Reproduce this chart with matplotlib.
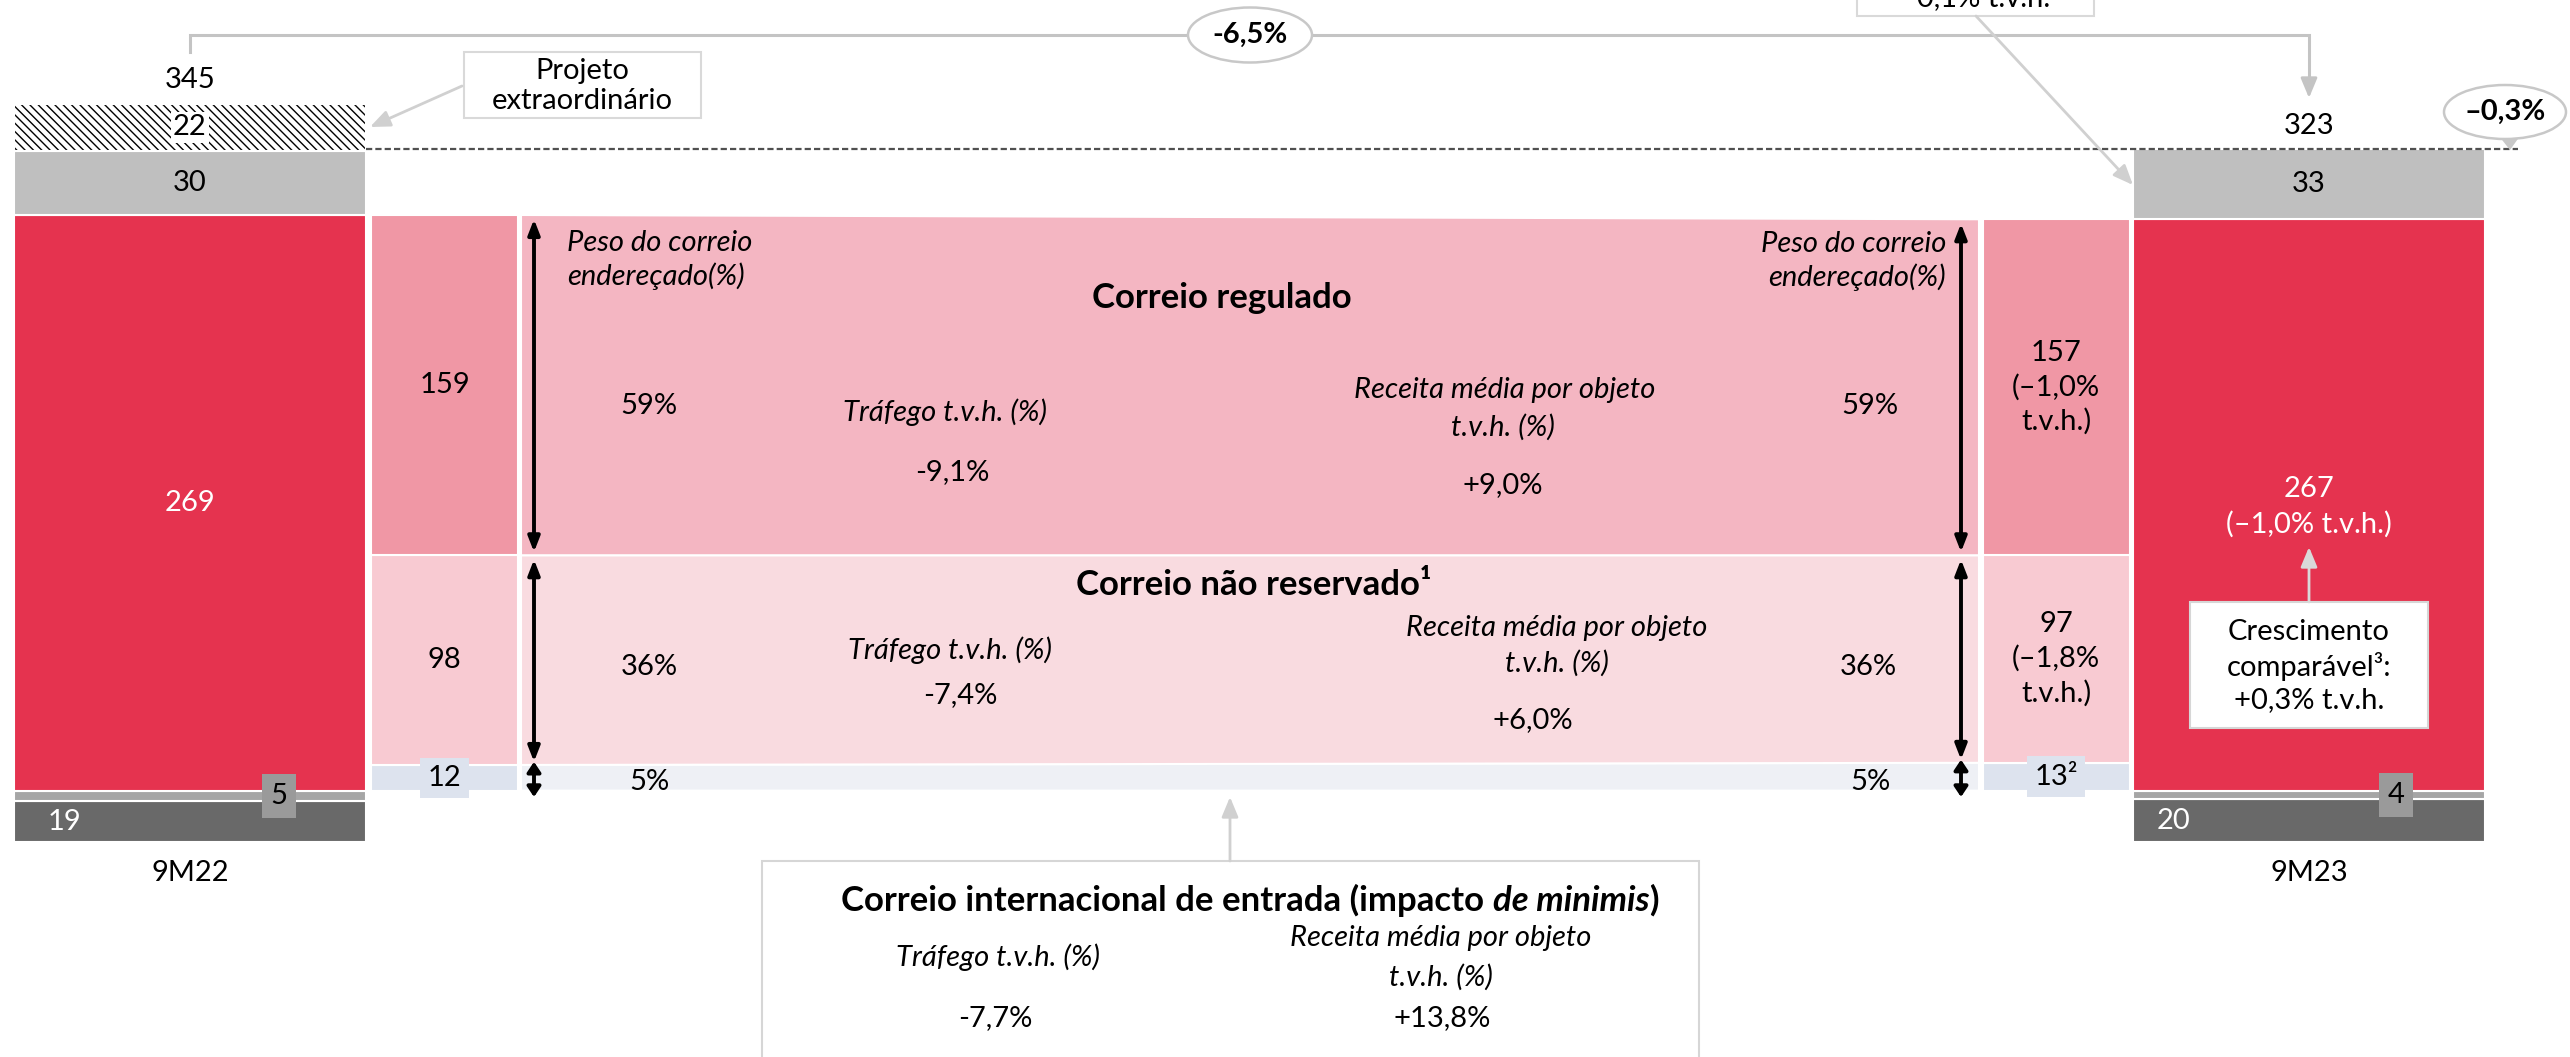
"""
Revenue bridge 9M22 -> 9M23 with the mail breakdown in the middle.
Drawn on one axes: x in pixel columns, y in M EUR.
"""

import matplotlib.pyplot as plt
from matplotlib.patches import Polygon, Rectangle, Ellipse

plt.rcParams['font.family'] = ['Lato', 'DejaVu Sans']
plt.rcParams['hatch.linewidth'] = 1.0

# ---- data (M EUR) ----
periods       = ['9M22', '9M23']
period_total  = ['345', '323']
dark_seg      = [19, 20]
thin_seg      = [5, 4]
mail_seg      = [269, 267]
gray_seg      = [30, 33]
extra_seg     = [22, 0]

regulated     = [159, 157]
non_reserved  = [98, 97]
inbound       = [12, 13]
col_labels_23 = ['157\n(–1,0%\nt.v.h.)', '97\n(–1,8%\nt.v.h.)', '13²']
mail_weight   = ['59%', '36%', '5%']
traffic_yoy   = ['-9,1%', '-7,4%', '-7,7%']
revenue_yoy   = ['+9,0%', '+6,0%', '+13,8%']
mail_23_label = '267\n(–1,0% t.v.h.)'
comparable    = 'Crescimento\ncomparável³:\n+0,3% t.v.h.'
total_change  = '-6,5%'
recur_change  = '–0,3%'

# ---- layout ----
W, H = 2570, 1057
K = 2.14        # pixels per M EUR
BASE = 842      # pixel row of the zero line


def yv(row):
    """pixel row -> data value"""
    return (BASE - row) / K


RED, DARK, THIN, GRAY = '#E5334F', '#696969', '#A6A6A6', '#BFBFBF'
COL_COLORS  = ['#DDE3EE', '#F8CAD2', '#F097A5']
BAND_COLORS = ['#EEF0F5', '#F9DBE0', '#F4B6C2']
LEADER = '#D0D0D0'

fs = 21          # numbers / plain labels
fi = 21          # italic captions
fb = 25          # bold titles

fig = plt.figure(figsize=(W / 100, H / 100), dpi=100)
ax = fig.add_axes([0, 0, 1, 1])
ax.set_xlim(0, W)
ax.set_ylim(yv(H), yv(0))
ax.axis('off')

bar_x, bar_w = [190, 2309], 352
col_x, col_w = [444.5, 2056], 147
band_l, band_r = 521, 1979

# stacked totals
bottom = [0, 0]
for vals, color in [(dark_seg, DARK), (thin_seg, THIN), (mail_seg, RED), (gray_seg, GRAY)]:
    ax.bar(bar_x, vals, bar_w, bottom=bottom, color=color, edgecolor='white', linewidth=1.5)
    bottom = [b + v for b, v in zip(bottom, vals)]
ax.bar(bar_x[0], extra_seg[0], bar_w, bottom=bottom[0], color='white',
       edgecolor='black', hatch='\\\\\\\\', linewidth=0)
ax.bar(bar_x[0], extra_seg[0], bar_w, bottom=bottom[0], color='none',
       edgecolor='white', linewidth=1.5)
left_top, right_top = bottom

# middle columns and bands
lo = [dark_seg[i] + thin_seg[i] for i in range(2)]
bands = []
for vals, ccol, bcol in zip([inbound, non_reserved, regulated], COL_COLORS, BAND_COLORS):
    hi = [lo[i] + vals[i] for i in range(2)]
    ax.bar(col_x, vals, col_w, bottom=lo, color=ccol, edgecolor='white', linewidth=1.5)
    ax.add_patch(Polygon([(band_l, lo[0]), (band_r, lo[1]), (band_r, hi[1]), (band_l, hi[0])],
                         closed=True, fc=bcol, ec='white', lw=1.5))
    bands.append((lo, hi))
    lo = hi

# dotted reference line at 9M23 total
ax.plot([366, 2518], [right_top, right_top], color='#505050', lw=1.6, ls=(0, (2.8, 1.4)))

# ---- value labels on bars ----
ax.text(64, dark_seg[0] / 2, str(dark_seg[0]), ha='center', va='center', fontsize=fs, color='white')
ax.text(2174, dark_seg[1] / 2, str(dark_seg[1]), ha='center', va='center', fontsize=fs, color='white')
for xx, i in [(279, 0), (2396, 1)]:
    ax.text(xx, dark_seg[i] + thin_seg[i] / 2, str(thin_seg[i]), ha='center', va='center', fontsize=fs,
            bbox=dict(boxstyle='square,pad=0.3', fc='#9A9A9A', ec='none'))
base_red = [dark_seg[i] + thin_seg[i] for i in range(2)]
ax.text(bar_x[0], base_red[0] + mail_seg[0] / 2, str(mail_seg[0]), ha='center', va='center',
        fontsize=fs, color='white')
ax.text(bar_x[1], yv(507), mail_23_label, ha='center', va='center', fontsize=fs, color='white',
        linespacing=1.4)
for i in range(2):
    top_red = base_red[i] + mail_seg[i]
    ax.text(bar_x[i], top_red + gray_seg[i] / 2, str(gray_seg[i]), ha='center', va='center', fontsize=fs)
ax.text(bar_x[0], left_top + extra_seg[0] / 2, str(extra_seg[0]), ha='center', va='center', fontsize=fs,
        bbox=dict(boxstyle='square,pad=0.08', fc='white', ec='none'))
ax.text(bar_x[0], yv(80), period_total[0], ha='center', va='center', fontsize=fs)
ax.text(bar_x[1], yv(126), period_total[1], ha='center', va='center', fontsize=fs)
for i in range(2):
    ax.text(bar_x[i], yv(873), periods[i], ha='center', va='center', fontsize=fs)

# middle column labels
for k, vals in enumerate([inbound, non_reserved, regulated]):
    lo, hi = bands[k]
    kw = dict(ha='center', va='center', fontsize=fs, linespacing=1.35)
    if k == 0:
        kw['bbox'] = dict(boxstyle='square,pad=0.25', fc='#DDE3EE', ec='none')
    ax.text(col_x[0], (lo[0] + hi[0]) / 2, str(vals[0]), **kw)
    ax.text(col_x[1], (lo[1] + hi[1]) / 2, col_labels_23[2 - k], **kw)

# double arrows
for x in [534, 1961]:
    i = 0 if x < 1000 else 1
    for k, (lo, hi) in enumerate(bands):
        if k == 0:
            y0, y1 = lo[i] - 3, hi[i] + 1.5
            style = '<|-|>,head_length=0.6,head_width=0.4'
        else:
            y0, y1 = lo[i] + 1.5, hi[i] - 2
            style = '<|-|>,head_length=0.9,head_width=0.35'
        ax.annotate('', xy=(x, y1), xytext=(x, y0),
                    arrowprops=dict(arrowstyle=style, color='black', lw=2.8, shrinkA=0, shrinkB=0))

# band texts
it = dict(fontsize=fi, style='italic', ha='center', va='center')
ax.text(567, yv(260), 'Peso do correio\nendereçado(%)', fontsize=fi, style='italic',
        ha='left', va='center', linespacing=1.25)
ax.text(1946, yv(261), 'Peso do correio\nendereçado(%)', linespacing=1.25, fontsize=fi,
        style='italic', ha='right', va='center', multialignment='right')
ax.text(1222, yv(298), 'Correio regulado', fontsize=fb, weight='bold', ha='center', va='center')
ax.text(1254, yv(585), 'Correio não reservado¹', fontsize=fb, weight='bold', ha='center', va='center')

for (xl, xr, row), w in zip([(649, 1870, 406), (649, 1868, 667), (649, 1870, 782)], mail_weight):
    ax.text(xl, yv(row), w, ha='center', va='center', fontsize=fs)
    ax.text(xr, yv(row), w, ha='center', va='center', fontsize=fs)

ax.text(945, yv(412), 'Tráfego t.v.h. (%)', **it)
ax.text(952, yv(472), traffic_yoy[0], ha='center', va='center', fontsize=fs)
ax.text(1505, yv(390), 'Receita média por objeto', **it)
ax.text(1503, yv(427), 't.v.h. (%)', **it)
ax.text(1503, yv(485), revenue_yoy[0], ha='center', va='center', fontsize=fs)

ax.text(950, yv(650), 'Tráfego t.v.h. (%)', **it)
ax.text(960, yv(695), traffic_yoy[1], ha='center', va='center', fontsize=fs)
ax.text(1557, yv(628), 'Receita média por objeto', **it)
ax.text(1557, yv(663), 't.v.h. (%)', **it)
ax.text(1533, yv(720), revenue_yoy[1], ha='center', va='center', fontsize=fs)

# ---- inbound box at the bottom ----
ax.add_patch(Rectangle((762, yv(1070)), 937, (1070 - 861) / K, fc='white', ec='#D6D6D6', lw=1.5))
ax.annotate('', xy=(1230, yv(797)), xytext=(1230, yv(861)),
            arrowprops=dict(arrowstyle='-|>,head_length=1.2,head_width=0.5', color=LEADER, lw=2,
                            shrinkA=0, shrinkB=0))
t1 = ax.text(800, yv(900), 'Correio internacional de entrada (impacto ', fontsize=fb, weight='bold',
             ha='left', va='center')
t2 = ax.annotate('de minimis', xy=(1, 0), xycoords=t1, fontsize=fb, weight='bold', style='italic',
                 ha='left', va='bottom')
t3 = ax.annotate(')', xy=(1, 0), xycoords=t2, fontsize=fb, weight='bold', ha='left', va='bottom')
ax.text(998, yv(957), 'Tráfego t.v.h. (%)', **it)
ax.text(995, yv(1018), traffic_yoy[2], ha='center', va='center', fontsize=fs)
ax.text(1441, yv(938), 'Receita média por objeto', **it)
ax.text(1441, yv(977), 't.v.h. (%)', **it)
ax.text(1442, yv(1018), revenue_yoy[2], ha='center', va='center', fontsize=fs)

# ---- comparable growth box ----
ax.add_patch(Rectangle((2190, yv(728)), 238, 126 / K, fc='white', ec='#D6D6D6', lw=1.5))
ax.text(2309, yv(666), comparable, ha='center', va='center', fontsize=fs, linespacing=1.3)
ax.annotate('', xy=(2309, yv(547)), xytext=(2309, yv(602)),
            arrowprops=dict(arrowstyle='-|>,head_length=1.2,head_width=0.5', color='#D9D9D9', lw=2,
                            shrinkA=0, shrinkB=0))

# ---- top annotations ----
ax.plot([190, 190, 2309, 2309], [yv(52), yv(35), yv(35), yv(80)], color='#C4C4C4', lw=2.2,
        solid_joinstyle='miter')
ax.annotate('', xy=(2309, yv(98)), xytext=(2309, yv(78)),
            arrowprops=dict(arrowstyle='-|>,head_length=1.2,head_width=0.5', color='#C4C4C4', lw=2,
                            shrinkA=0, shrinkB=0))
ax.add_patch(Ellipse((1250, yv(35)), 124, 55 / K, fc='white', ec='#C8C8C8', lw=1.8, zorder=3))
ax.text(1250, yv(35), total_change, ha='center', va='center', fontsize=fs, weight='bold', zorder=4)

# "Projeto extraordinario" callout
ax.add_patch(Rectangle((464, yv(118)), 237, 66 / K, fc='white', ec='#D9D9D9', lw=1.5))
ax.text(582, yv(86), 'Projeto\nextraordinário', ha='center', va='center', fontsize=fs, linespacing=1.2)
ax.annotate('', xy=(370, yv(127)), xytext=(462, yv(86)),
            arrowprops=dict(arrowstyle='-|>,head_length=1.2,head_width=0.5', color=LEADER, lw=2,
                            shrinkA=0, shrinkB=0))

# cut callout at the top edge
ax.add_patch(Rectangle((1857, yv(16)), 237, 60 / K, fc='white', ec='#D9D9D9', lw=1.5))
ax.text(1975, yv(6), '–0,1% t.v.h.', ha='center', va='baseline', fontsize=fs)
ax.annotate('', xy=(2133, yv(185)), xytext=(1976, yv(16)),
            arrowprops=dict(arrowstyle='-|>,head_length=1.2,head_width=0.5', color=LEADER, lw=2,
                            shrinkA=0, shrinkB=0))

# recurring change bubble
ax.add_patch(Polygon([(2499, yv(136)), (2520, yv(136)), (2510, yv(150))], closed=True,
                     fc='#C8C8C8', ec='none', zorder=3))
ax.add_patch(Ellipse((2505, yv(112)), 122, 54 / K, fc='white', ec='#C8C8C8', lw=1.8, zorder=3))
ax.text(2505, yv(112), recur_change, ha='center', va='center', fontsize=fs, weight='bold', zorder=4)

# centre the mixed-style title in the bottom box
fig.canvas.draw()
r = fig.canvas.get_renderer()
x_left = t1.get_window_extent(r).x0
x_right = t3.get_window_extent(r).x1
t1.set_x(800 + 1250 - (x_left + x_right) / 2)

fig.savefig('out.png', dpi=100, facecolor='white')
